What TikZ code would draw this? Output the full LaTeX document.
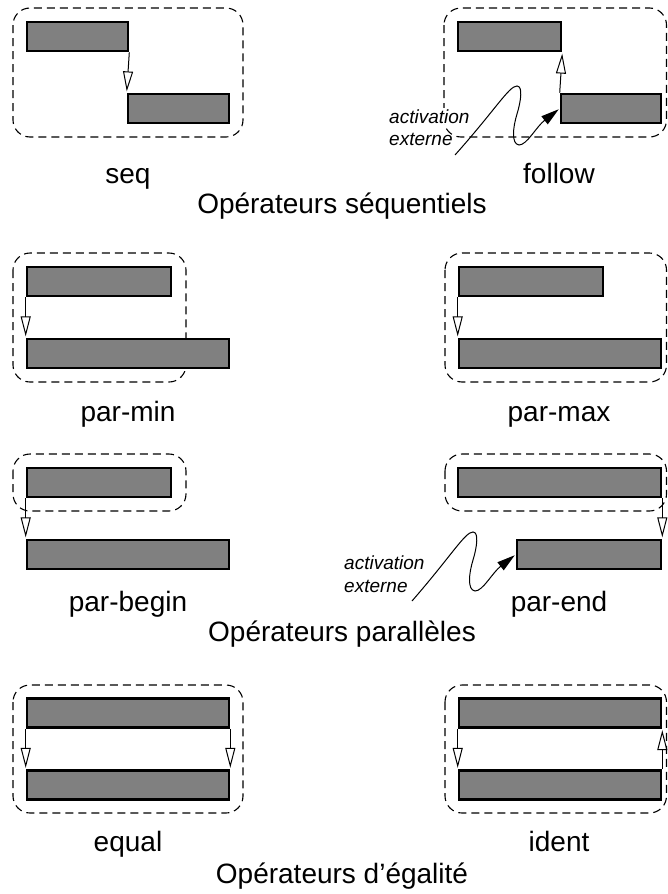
\documentclass[tikz,border=0pt]{standalone}
\usepackage{fontspec}
\setmainfont{Liberation Sans}
\usetikzlibrary{arrows.meta}
\begin{document}
\begin{tikzpicture}[x=1pt,y=-1pt,
  bar/.style={draw=black, fill=gray, line width=2.6pt, inner sep=0pt, minimum height=29pt},
  dbox/.style={draw=black, dash pattern=on 8pt off 5pt, line width=1.1pt, rounded corners=17pt},
  link/.style={draw=black, line width=1pt, -{Triangle[open, length=20pt, width=10pt, line width=1pt]}, shorten >=1.3pt},
  ext/.style={draw=black, line width=1pt, -{Triangle[length=18pt, width=10pt]}, shorten >=1.2pt},
  lbl/.style={font=\fontsize{28}{32}\selectfont, anchor=base, inner sep=0pt},
  act/.style={font=\fontsize{19}{22}\selectfont\itshape, anchor=base west, inner sep=1pt}
]
\useasboundingbox (0,0) rectangle (668,894);

% ---------- seq ----------
\draw[dbox] (13,8) rectangle (243,137);
\node[bar, minimum width=101pt] (s1) at (77.5,36.5) {};
\node[bar, minimum width=101pt] (s2) at (178.5,108.5) {};
\draw[link] (s1.south east) -- (s2.north west);
\node[lbl] (lseq) at (128,183) {seq};

% ---------- follow ----------
\draw[dbox] (444,8) rectangle (666.5,137);
\node[bar, minimum width=103pt] (f1) at (509.5,36.5) {};
\node[bar, minimum width=100pt] (f2) at (611,108.5) {};
\draw[link] (f2.north west) -- (f1.south east);
\node[act, fill=white] (fa1) at (388,123) {activation};
\node[act] (fa2) at (388,145) {externe};
\coordinate (fS) at (455,155);
\draw[ext] (fS) .. controls (496,109) and (509,86) .. (517,86)
  .. controls (523,86) and (521,101) .. (517,114)
  .. controls (513,127) and (511,144) .. (519,145)
  .. controls (527,145) and (536,127) .. (f2.west);
\node[lbl] (lfollow) at (559,183) {follow};

\node[lbl] (t1) at (342,213) {Opérateurs séquentiels};

% ---------- par-min ----------
\draw[dbox] (13,253) rectangle (186,382);
\node[bar, minimum width=144pt] (pm1) at (99,281.5) {};
\node[bar, minimum width=202pt] (pm2) at (128,353.5) {};
\draw[link] (pm1.south west) -- (pm2.north west);
\node[lbl] (lpm) at (128,421) {par-min};

% ---------- par-max ----------
\draw[dbox] (445,253) rectangle (666.5,382);
\node[bar, minimum width=144pt] (px1) at (531,281.5) {};
\node[bar, minimum width=202pt] (px2) at (560,353.5) {};
\draw[link] (px1.south west) -- (px2.north west);
\node[lbl] (lpx) at (559,421) {par-max};

% ---------- par-begin ----------
\draw[dbox] (13,454) rectangle (186,511);
\node[bar, minimum width=144pt] (pb1) at (99,482.5) {};
\node[bar, minimum width=202pt] (pb2) at (128,554.5) {};
\draw[link] (pb1.south west) -- (pb2.north west);
\node[lbl] (lpb) at (128,611) {par-begin};

% ---------- par-end ----------
\draw[dbox] (445,454) rectangle (666.5,511);
\node[bar, minimum width=203pt] (pe1) at (559.5,482.5) {};
\node[bar, minimum width=144pt] (pe2) at (589,554.5) {};
\draw[link] (pe1.south east) -- (pe2.north east);
\node[act] (pa1) at (343,569) {activation};
\node[act] (pa2) at (343,592) {externe};
\coordinate (pS) at (412,601);
\draw[ext] (pS) .. controls (452,555) and (465,532) .. (473,532)
  .. controls (479,532) and (477,547) .. (473,560)
  .. controls (469,573) and (467,590) .. (475,591)
  .. controls (483,591) and (492,573) .. (pe2.west);
\node[lbl] (lpe) at (559,611) {par-end};

\node[lbl] (t2) at (342,641) {Opérateurs parallèles};

% ---------- equal ----------
\draw[dbox] (13,685) rectangle (243,813);
\node[bar, minimum width=202pt] (e1) at (128,713) {};
\node[bar, minimum width=202pt] (e2) at (128,785) {};
\draw[link] (e1.south west) -- (e2.north west);
\draw[link] (e1.south east) -- (e2.north east);
\node[lbl] (leq) at (128,851) {equal};

% ---------- ident ----------
\draw[dbox] (445,685) rectangle (666.5,813);
\node[bar, minimum width=202pt] (i1) at (560,713) {};
\node[bar, minimum width=202pt] (i2) at (560,785) {};
\draw[link] (i1.south west) -- (i2.north west);
\draw[link] (i2.north east) -- (i1.south east);
\node[lbl] (lid) at (559,851) {ident};

\node[lbl] (t3) at (342,883) {Opérateurs d’égalité};
\end{tikzpicture}
\end{document}
